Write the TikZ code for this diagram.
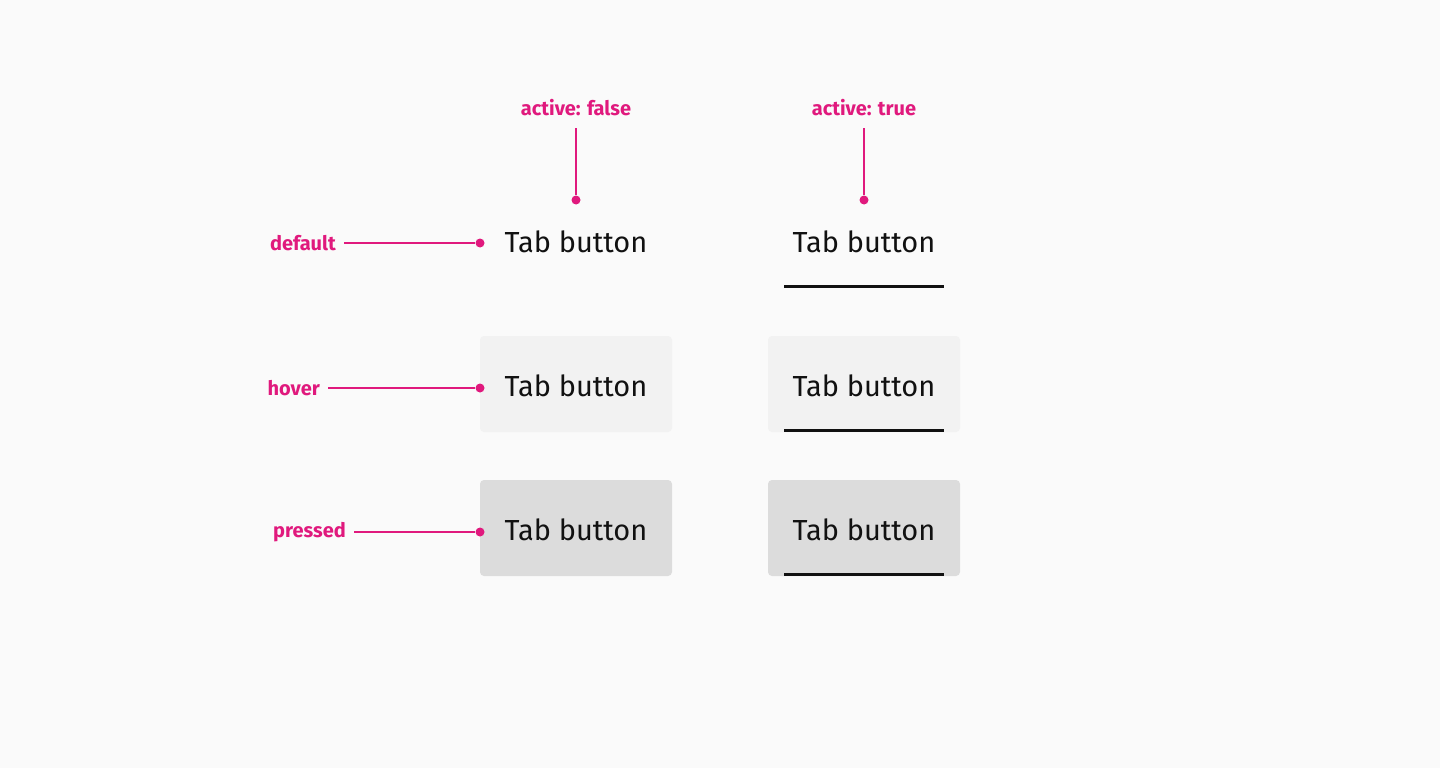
\documentclass[tikz,border=0pt]{standalone}
\usepackage{fontspec}
\setmainfont{Fira Sans}
\definecolor{pink}{HTML}{E0197D}
\definecolor{bg}{HTML}{FAFAFA}
\definecolor{hov}{HTML}{F2F2F2}
\definecolor{prs}{HTML}{DCDCDC}
\definecolor{ink}{HTML}{111111}
\begin{document}
\begin{tikzpicture}[x=1pt,y=-1pt,
  lbl/.style={text=pink,font=\fontsize{20}{22}\selectfont\bfseries,inner sep=0pt},
  tab/.style={text=ink,font=\fontsize{29}{32}\selectfont,inner sep=0pt},
  lead/.style={draw=pink,line width=1.5pt},
  dot/.style={circle,fill=pink,inner sep=0pt,minimum size=9pt},
  bar/.style={draw=ink,line width=3pt},
  box/.style={rounded corners=4pt}]
\fill[bg] (0,0) rectangle (1440,768);
\useasboundingbox (0,0) rectangle (1440,768);
% boxes
\fill[hov,box] (480,336) rectangle (672,432);
\fill[hov,box] (768,336) rectangle (960,432);
\fill[prs,box] (480,480) rectangle (672,576);
\fill[prs,box] (768,480) rectangle (960,576);
% texts
\node[tab] (t11) at (576,242) {Tab button};
\node[tab] (t21) at (864,242) {Tab button};
\node[tab] (t12) at (576,386) {Tab button};
\node[tab] (t22) at (864,386) {Tab button};
\node[tab] (t13) at (576,530) {Tab button};
\node[tab] (t23) at (864,530) {Tab button};
% underlines
\coordinate (u1a) at (784,286); \coordinate (u1b) at (944,286);
\coordinate (u2a) at (784,430); \coordinate (u2b) at (944,430);
\coordinate (u3a) at (784,574); \coordinate (u3b) at (944,574);
\draw[bar] (u1a) -- (u1b);
\draw[bar] (u2a) -- (u2b);
\draw[bar] (u3a) -- (u3b);
% column labels
\node[lbl] (af) at (576,108) {active: false};
\node[lbl] (at) at (864,108) {active: true};
\node[dot] (df) at (576,200) {};
\node[dot] (dt) at (864,200) {};
\draw[lead] (576,128) -- (df);
\draw[lead] (864,128) -- (dt);
% row labels
\node[lbl,anchor=east] (ld) at (336,243) {default};
\node[lbl,anchor=east] (lh) at (320,388) {hover};
\node[lbl,anchor=east] (lp) at (346,532) {pressed};
\node[dot] (dd) at (480,243) {};
\node[dot] (dh) at (480,388) {};
\node[dot] (dp) at (480,532) {};
\draw[lead] ([xshift=8pt]ld.east) -- (dd);
\draw[lead] ([xshift=8pt]lh.east) -- (dh);
\draw[lead] ([xshift=8pt]lp.east) -- (dp);
\end{tikzpicture}
\end{document}
